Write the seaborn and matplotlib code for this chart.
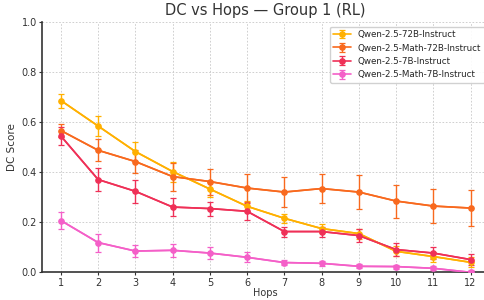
import matplotlib
matplotlib.use("Agg")
import matplotlib.pyplot as plt
import seaborn as sns
import numpy as np
import pandas as pd

hops = [1, 2, 3, 4, 5, 6, 7, 8, 9, 10, 11, 12]
models = ["Qwen-2.5-72B-Instruct", "Qwen-2.5-Math-72B-Instruct",
          "Qwen-2.5-7B-Instruct", "Qwen-2.5-Math-7B-Instruct"]
colors = ["#FFB000", "#F8691E", "#EF3057", "#F45FC8"]

dc_72b = [0.687, 0.585, 0.483, 0.403, 0.333, 0.264, 0.216, 0.175, 0.155, 0.084, 0.063, 0.040]
dc_math72b = [0.567, 0.488, 0.443, 0.383, 0.363, 0.337, 0.321, 0.335, 0.321, 0.285, 0.265, 0.257]
dc_7b = [0.545, 0.371, 0.324, 0.261, 0.255, 0.244, 0.163, 0.163, 0.147, 0.091, 0.077, 0.051]
dc_math7b = [0.207, 0.119, 0.085, 0.088, 0.077, 0.060, 0.039, 0.036, 0.024, 0.023, 0.016, 0.000]

err_72b = [0.028, 0.039, 0.037, 0.040, 0.030, 0.020, 0.019, 0.017, 0.020, 0.020, 0.020, 0.020]
err_math72b = [0.027, 0.044, 0.045, 0.056, 0.052, 0.056, 0.060, 0.059, 0.069, 0.066, 0.069, 0.071]
err_7b = [0.037, 0.047, 0.045, 0.037, 0.028, 0.033, 0.020, 0.020, 0.026, 0.025, 0.023, 0.021]
err_math7b = [0.034, 0.036, 0.023, 0.025, 0.025, 0.020, 0.011, 0.010, 0.008, 0.008, 0.008, 0.008]

values = [dc_72b, dc_math72b, dc_7b, dc_math7b]
errors = [err_72b, err_math72b, err_7b, err_math7b]

rows = []
for m, v, e in zip(models, values, errors):
    for h, vv, ee in zip(hops, v, e):
        rows.append({"Hops": h, "DC": vv, "err": ee, "Model": m})
df = pd.DataFrame(rows)

sns.set_style("white")
plt.rcParams["font.family"] = ["DejaVu Sans"]

fig = plt.figure(figsize=(4.85, 3.0), dpi=100)
ax = fig.add_axes([0.0872, 0.0923, 0.9214, 0.8334])

handles = []
for m, c in zip(models, colors):
    sub = df[df["Model"] == m]
    cont = ax.errorbar(sub["Hops"], sub["DC"], yerr=sub["err"], color=c,
                       marker="o", markersize=3.8, linewidth=1.2,
                       elinewidth=1.0, capsize=2.5, capthick=0.9,
                       ecolor=c, label=m, zorder=3)
    handles.append(cont)
sns.lineplot(data=df, x="Hops", y="DC", hue="Model", palette=colors,
             hue_order=models, ax=ax, legend=False, linewidth=1.2, zorder=3)

ax.set_xlim(0.5, 12.5)
ax.set_ylim(0.0, 1.0)
ax.set_xticks(hops)
ax.set_yticks([0.0, 0.2, 0.4, 0.6, 0.8, 1.0])
ax.grid(True, linestyle=(0, (2, 2)), color="#c8c8c8", linewidth=0.6)
for s in ["top", "right"]:
    ax.spines[s].set_visible(False)
for s in ["left", "bottom"]:
    ax.spines[s].set_color("#333333")
    ax.spines[s].set_linewidth(1.2)
ax.tick_params(axis="both", labelsize=7, colors="#333333", length=2,
               width=0.8, pad=2, direction="out", bottom=True, left=True)
ax.set_xlabel("Hops", fontsize=7, color="#333333", labelpad=0)
ax.set_ylabel("DC Score", fontsize=7.5, color="#333333", labelpad=3)
ax.set_title("DC vs Hops — Group 1 (RL)", fontsize=10.5, color="#333333", pad=5)
ax.legend(handles=handles, labels=models, loc="upper right", fontsize=6.3,
          frameon=True, framealpha=0.9, edgecolor="#cccccc")

fig.savefig("out.png", dpi=100)
